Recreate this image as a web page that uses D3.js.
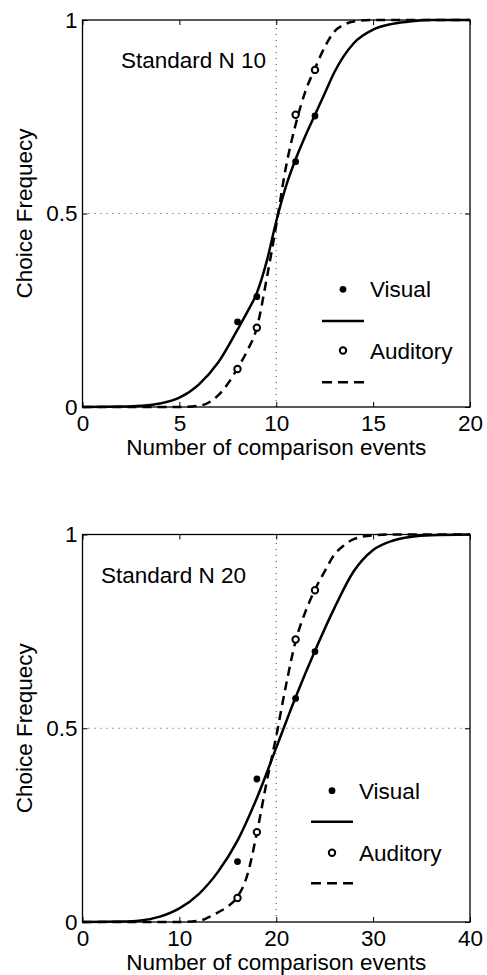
<!DOCTYPE html>
<html><head><meta charset="utf-8">
<script src="https://cdn.jsdelivr.net/npm/d3@7"></script>
<style>
body{margin:0;background:#fff}
svg{display:block}
text{font-family:"Liberation Sans",Arial,Helvetica,sans-serif;fill:#000}
</style>
</head><body><svg id="c" width="487" height="975"></svg>
<script>
// ---------- data ----------
const yTicks = [0, 0.5, 1];
const topXTicks = [0, 5, 10, 15, 20];
const botXTicks = [0, 10, 20, 30, 40];
const topTitle = "Standard N 10";
const botTitle = "Standard N 20";
const xAxisTitle = "Number of comparison events";
const yAxisTitle = "Choice Frequecy";
const legendNames = ["Visual", "Auditory"];

// observed choice frequencies
const topPointX = [8, 9, 11, 12];
const topVisual = [0.22, 0.285, 0.634, 0.752];
const topAuditory = [0.098, 0.205, 0.755, 0.871];
const botPointX = [16, 18, 22, 24];
const botVisual = [0.156, 0.369, 0.577, 0.698];
const botAuditory = [0.062, 0.232, 0.729, 0.856];

// fitted curves
const topVisFitX = [0, 2, 3, 4, 5, 6, 7, 8, 8.5, 9, 9.5, 10, 10.5, 11, 11.5, 12, 12.5, 13, 14, 15, 16, 17, 18, 20];
const topVisFitY = [0, 0.001, 0.003, 0.009, 0.024, 0.058, 0.115, 0.2, 0.245, 0.295, 0.375, 0.48, 0.57, 0.64, 0.7, 0.755, 0.81, 0.865, 0.94, 0.975, 0.99, 0.997, 1, 1];
const topAudFitX = [0, 5, 6, 7, 7.5, 8, 8.5, 9, 9.5, 10, 10.5, 11, 11.5, 12, 12.5, 13, 13.5, 14, 15, 20];
const topAudFitY = [0, 0, 0.003, 0.03, 0.06, 0.1, 0.145, 0.205, 0.33, 0.47, 0.62, 0.73, 0.815, 0.875, 0.93, 0.97, 0.988, 0.996, 1, 1];
const botVisFitX = [0, 4, 6, 8, 10, 12, 14, 16, 18, 20, 22, 24, 26, 28, 30, 32, 34, 36, 40];
const botVisFitY = [0, 0.001, 0.004, 0.014, 0.035, 0.072, 0.13, 0.21, 0.32, 0.45, 0.58, 0.7, 0.81, 0.905, 0.96, 0.984, 0.994, 0.998, 1];
const botAudFitX = [0, 10, 12, 13, 14, 15, 16, 17, 18, 19, 20, 21, 22, 23, 24, 25, 26, 27, 28, 30, 32, 40];
const botAudFitY = [0, 0, 0.003, 0.012, 0.025, 0.04, 0.065, 0.12, 0.23, 0.36, 0.48, 0.61, 0.725, 0.8, 0.858, 0.905, 0.948, 0.972, 0.988, 0.998, 1, 1];

// ---------- layout ----------
const panels = [
  {left: 82.5, right: 470, top: 20, bottom: 407, xmax: 20, xTicks: topXTicks, ref: 10,
   title: topTitle, titleX: 121,
   px: topPointX, vis: topVisual, aud: topAuditory,
   visFit: [topVisFitX, topVisFitY], audFit: [topAudFitX, topAudFitY],
   legX: 343, legRows: [289.3, 321, 350.5, 382.3]},
  {left: 82.5, right: 470, top: 534.5, bottom: 922, xmax: 40, xTicks: botXTicks, ref: 20,
   title: botTitle, titleX: 101,
   px: botPointX, vis: botVisual, aud: botAuditory,
   visFit: [botVisFitX, botVisFitY], audFit: [botAudFitX, botAudFitY],
   legX: 332, legRows: [790.7, 821.7, 852.7, 883.3]}
];

const FS = 22.5;
const svg = d3.select("#c");

panels.forEach(p => {
  const x = d3.scaleLinear().domain([0, p.xmax]).range([p.left, p.right]);
  const y = d3.scaleLinear().domain([0, 1]).range([p.bottom, p.top]);
  const g = svg.append("g");

  // reference dotted lines
  g.append("line").attr("x1", x(p.ref)).attr("x2", x(p.ref)).attr("y1", y(0)).attr("y2", y(1))
    .attr("stroke", "#444").attr("stroke-width", 1).attr("stroke-dasharray", "1,5");
  g.append("line").attr("x1", x(0)).attr("x2", x(p.xmax)).attr("y1", y(0.5)).attr("y2", y(0.5))
    .attr("stroke", "#444").attr("stroke-width", 1).attr("stroke-dasharray", "1,5");

  // axes (inward ticks)
  const ax = g.append("g").attr("transform", `translate(0,${p.bottom})`)
    .call(d3.axisBottom(x).tickValues(p.xTicks).tickFormat(d3.format("d")).tickSize(-5).tickPadding(8));
  const ay = g.append("g").attr("transform", `translate(${p.left},0)`)
    .call(d3.axisLeft(y).tickValues(yTicks).tickFormat(d => d === 0.5 ? "0.5" : d3.format("d")(d)).tickSize(-5).tickPadding(5));
  const at = g.append("g").attr("transform", `translate(0,${p.top})`)
    .call(d3.axisTop(x).tickValues(p.xTicks).tickFormat("").tickSize(-5));
  const ar = g.append("g").attr("transform", `translate(${p.right},0)`)
    .call(d3.axisRight(y).tickValues(yTicks).tickFormat("").tickSize(-5));
  [ax, ay, at, ar].forEach(a => {
    a.select(".domain").remove();
    a.selectAll(".tick line").attr("stroke", "#000").attr("stroke-width", 1);
    a.selectAll("text").attr("font-size", FS).attr("font-family", '"Liberation Sans",Arial,sans-serif').attr("fill", "#000");
  });

  // box
  g.append("rect").attr("x", p.left).attr("y", p.top).attr("width", p.right - p.left).attr("height", p.bottom - p.top)
    .attr("fill", "none").attr("stroke", "#000").attr("stroke-width", 1.3);

  // fitted curves
  const line = d3.line().x(d => x(d[0])).y(d => y(d[1])).curve(d3.curveMonotoneX);
  g.append("path").datum(d3.zip(p.visFit[0], p.visFit[1])).attr("d", line)
    .attr("fill", "none").attr("stroke", "#000").attr("stroke-width", 2.5);
  g.append("path").datum(d3.zip(p.audFit[0], p.audFit[1])).attr("d", line)
    .attr("fill", "none").attr("stroke", "#000").attr("stroke-width", 2.5).attr("stroke-dasharray", "9,6");

  // points
  g.selectAll(".vis").data(d3.zip(p.px, p.vis)).join("circle")
    .attr("cx", d => x(d[0])).attr("cy", d => y(d[1])).attr("r", 3.4).attr("fill", "#000");
  g.selectAll(".aud").data(d3.zip(p.px, p.aud)).join("circle")
    .attr("cx", d => x(d[0])).attr("cy", d => y(d[1])).attr("r", 3.2)
    .attr("fill", "#fff").attr("stroke", "#000").attr("stroke-width", 2);

  // panel title
  g.append("text").attr("x", p.titleX).attr("y", p.top + 48).attr("font-size", FS).text(p.title);

  // axis titles
  g.append("text").attr("x", (p.left + p.right) / 2).attr("y", p.bottom + 48)
    .attr("text-anchor", "middle").attr("font-size", FS).text(xAxisTitle);
  g.append("text").attr("transform", `translate(32,${(p.top + p.bottom) / 2}) rotate(-90)`)
    .attr("text-anchor", "middle").attr("font-size", FS).text(yAxisTitle);

  // legend
  const r = p.legRows;
  g.append("circle").attr("cx", p.legX).attr("cy", r[0]).attr("r", 3.4).attr("fill", "#000");
  g.append("text").attr("x", p.legX + 27).attr("y", r[0]).attr("dy", "0.36em").attr("font-size", FS).text(legendNames[0]);
  g.append("line").attr("x1", p.legX - 21).attr("x2", p.legX + 21).attr("y1", r[1]).attr("y2", r[1])
    .attr("stroke", "#000").attr("stroke-width", 2.5);
  g.append("circle").attr("cx", p.legX).attr("cy", r[2]).attr("r", 3.2).attr("fill", "#fff").attr("stroke", "#000").attr("stroke-width", 2);
  g.append("text").attr("x", p.legX + 27).attr("y", r[2]).attr("dy", "0.36em").attr("font-size", FS).text(legendNames[1]);
  g.append("line").attr("x1", p.legX - 21).attr("x2", p.legX + 21).attr("y1", r[3]).attr("y2", r[3])
    .attr("stroke", "#000").attr("stroke-width", 2.5).attr("stroke-dasharray", "10,6");
});
</script>
</body></html>
